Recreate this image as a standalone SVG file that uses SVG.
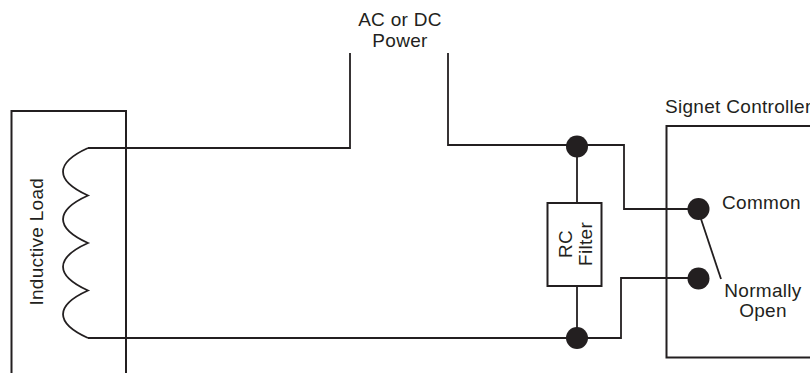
<svg xmlns="http://www.w3.org/2000/svg" width="810" height="373" viewBox="0 0 810 373">
<style>
.w{fill:none;stroke:#231f20;stroke-width:1.8;stroke-linejoin:miter}
.b{fill:none;stroke:#231f20;stroke-width:2}
.d{fill:#231f20}
.t{font-family:"Liberation Sans",Arial,sans-serif;font-size:19px;fill:#231f20;letter-spacing:0.3px}
</style>
<rect width="810" height="373" fill="#fff"/>
<g id="connectors">
<path class="w" d="M88,148 H350 V53"/>
<path class="w" d="M448,53 V145 H624 V209 H698"/>
<path class="w" d="M577,146 V203"/>
<path class="w" d="M577,286 V338"/>
<path class="w" d="M88,338 H621 V278 H698"/>
<path class="w" d="M701,219 L721,279"/>
</g>
<g id="inductive-load">
<path class="b" d="M11.5,380 V111 H126 V380"/>
<path class="w" d="M88,148 C54.7,163 54.7,180.5 88,195.5 C54.7,210.5 54.7,228 88,243 C54.7,258 54.7,275.5 88,290.5 C54.7,305.5 54.7,323 88,338"/>
<text class="t" transform="translate(43.3,241.7) rotate(-90)" text-anchor="middle">Inductive Load</text>
</g>
<g id="power">
<text class="t" x="400" y="26" text-anchor="middle">AC or DC</text>
<text class="t" x="400" y="46.7" text-anchor="middle">Power</text>
</g>
<g id="rc-filter">
<rect class="b" x="547.5" y="203" width="54" height="83"/>
<text class="t" transform="translate(571.7,244) rotate(-90)" text-anchor="middle">RC</text>
<text class="t" transform="translate(591.7,244) rotate(-90)" text-anchor="middle">Filter</text>
</g>
<g id="junction-top"><circle class="d" cx="577" cy="146.5" r="11"/></g>
<g id="junction-bottom"><circle class="d" cx="577" cy="338" r="11"/></g>
<g id="signet-controller">
<path class="b" d="M820,126 H666.5 V357.5 H820"/>
<text class="t" x="665" y="113">Signet Controller</text>
<circle class="d" cx="698.5" cy="209" r="11"/>
<circle class="d" cx="698.5" cy="278.5" r="11"/>
<text class="t" x="722" y="209">Common</text>
<text class="t" x="763" y="297" text-anchor="middle">Normally</text>
<text class="t" x="763" y="317" text-anchor="middle">Open</text>
</g>
</svg>
